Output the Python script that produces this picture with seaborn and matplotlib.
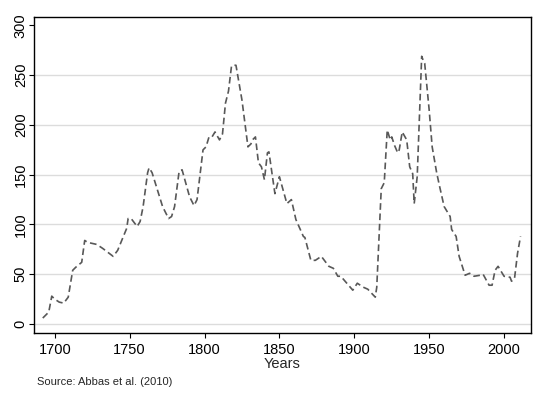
import matplotlib
matplotlib.use("Agg")
import matplotlib.pyplot as plt
import numpy as np
import pandas as pd
import seaborn as sn

# values
years = [1692, 1694, 1696, 1698, 1700, 1703, 1706, 1709, 1712, 1714, 1718, 1720,
         1722, 1728, 1732, 1739, 1742, 1748, 1749, 1751, 1755, 1757, 1759, 1762,
         1763, 1765, 1772, 1776, 1778, 1780, 1783, 1785, 1790, 1793, 1795, 1799,
         1801, 1803, 1805, 1807, 1810, 1812, 1814, 1816, 1818, 1819, 1821, 1825,
         1829, 1831, 1832, 1834, 1836, 1838, 1840, 1842, 1843, 1847, 1850, 1855,
         1858, 1861, 1866, 1867, 1871, 1874, 1878, 1883, 1886, 1889, 1891, 1899,
         1902, 1906, 1909, 1914, 1915, 1918, 1920, 1922, 1924, 1925, 1927, 1929,
         1930, 1932, 1935, 1937, 1939, 1940, 1942, 1945, 1946, 1947, 1950, 1952,
         1955, 1957, 1960, 1964, 1965, 1968, 1970, 1974, 1977, 1980, 1984, 1986,
         1990, 1992, 1994, 1996, 2000, 2004, 2005, 2007, 2009, 2011]
values = [6, 9, 12, 28, 25, 22, 21, 27, 54, 57, 62, 84,
          82, 80, 76, 68, 74, 96, 106, 106, 98, 103, 118, 152,
          157, 152, 118, 106, 108, 118, 153, 155, 128, 119, 125, 175,
          178, 188, 188, 193, 185, 191, 222, 234, 259, 260, 260, 225,
          178, 181, 185, 188, 162, 158, 145, 172, 173, 131, 148, 121,
          125, 105, 88, 87, 64, 64, 68, 58, 56, 48, 48, 34,
          41, 37, 35, 27, 37, 136, 142, 195, 185, 188, 179, 172,
          175, 193, 185, 158, 151, 121, 148, 269, 265, 262, 215, 178,
          152, 138, 118, 108, 95, 88, 68, 49, 51, 48, 49, 50,
          39, 39, 54, 58, 48, 47, 43, 46, 71, 88]

y_ticks = [0, 50, 100, 150, 200, 250, 300]
x_ticks = [1700, 1750, 1800, 1850, 1900, 1950, 2000]

df = pd.DataFrame({"Years": years, "value": values})

sn.set_style("white")
plt.rcParams['font.family'] = ['Liberation Sans', 'DejaVu Sans']

fig = plt.figure(figsize=(5.41, 3.95), dpi=100)
ax = fig.add_axes([0.063, 0.157, 0.918, 0.800])

sn.lineplot(data=df, x="Years", y="value", ax=ax, color="#585858",
            linewidth=1.2, dashes=False)
ax.lines[0].set_dashes((4, 2.2))

ax.set_xlim(1686.2, 2017.8)
ax.set_ylim(-9, 308.5)
ax.set_xticks(x_ticks)
ax.set_yticks(y_ticks)
ax.tick_params(axis="both", which="both", direction="out", length=3.5, width=0.8,
               colors="black", labelsize=10.5, left=True, bottom=True)
ax.tick_params(axis="y", pad=1)
for lab in ax.get_yticklabels():
    lab.set_rotation(90)
    lab.set_va("center")

ax.yaxis.grid(True, color="#dcdcdc", linewidth=1)
ax.xaxis.grid(False)
ax.get_ygridlines()[-1].set_visible(False)
for sp in ax.spines.values():
    sp.set_color("black")
    sp.set_linewidth(1)

ax.set_xlabel("Years", fontsize=10.5, labelpad=0)
ax.set_ylabel("")

fig.text(0.068, 0.025, "Source: Abbas et al. (2010)", fontsize=8)

fig.savefig("out.png", dpi=100)
